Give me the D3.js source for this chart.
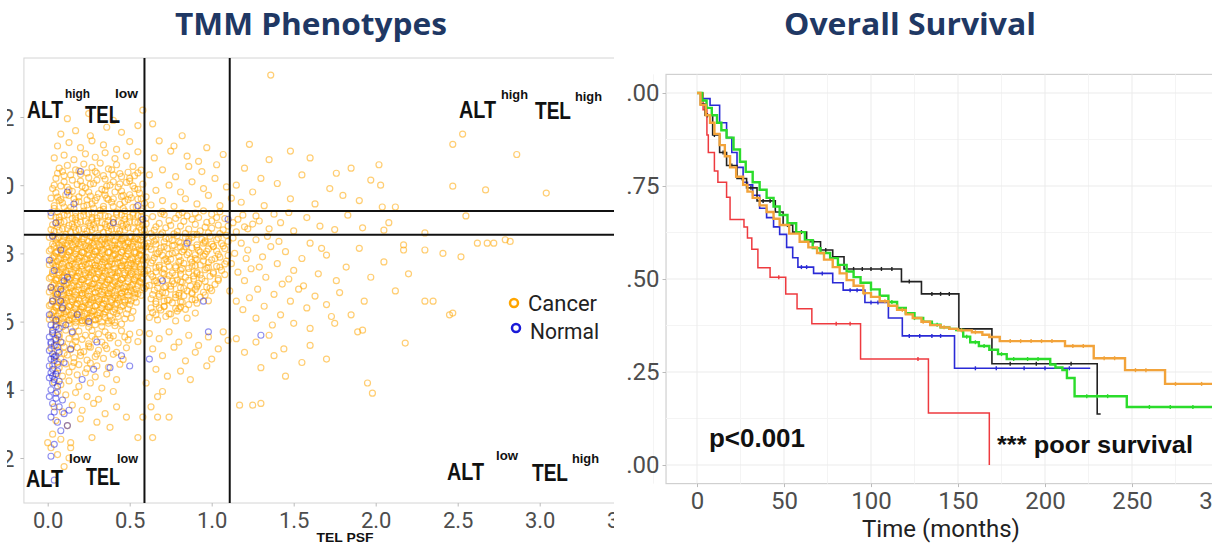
<!DOCTYPE html>
<html><head><meta charset="utf-8">
<script src="https://cdn.jsdelivr.net/npm/d3@7"></script>
<style>body{margin:0;background:#fff;} svg{display:block}</style>
</head><body>
<svg id="c" width="1212" height="544"></svg>
<script>
// ---------------- DATA ----------------
const titles = ["TMM Phenotypes", "Overall Survival"];
const groups = ["Cancer", "Normal"];
const xTicksL = [0, 0.5, 1, 1.5, 2, 2.5, 3, 3.5];
const yTicksL = [2, 4, 6, 8, 10, 12];
const xTitleL = "TEL PSF";
const cutTEL = [0.59, 1.11];
const cutALT = [9.24, 8.55];
const quadMain = ["ALT", "TEL"];
const quadLevels = [["high","low"],["high","high"],["low","low"],["low","high"]];

const cancerCore = [
[.03,8.52],[.07,8.47],[.11,8.55],[.15,8.44],[.19,8.5],[.23,8.56],[.27,8.46],[.31,8.53],[.35,8.42],[.39,8.51],[.43,8.57],[.47,8.45],[.51,8.5],[.55,8.41],[.59,8.54],
[.05,8.31],[.09,8.25],[.13,8.36],[.17,8.28],[.21,8.33],[.25,8.22],[.29,8.35],[.33,8.27],[.37,8.32],[.41,8.24],[.45,8.37],[.49,8.29],[.53,8.34],[.57,8.23],[.61,8.3],
[.02,8.12],[.06,8.05],[.1,8.15],[.14,8.08],[.18,8.13],[.22,8.02],[.26,8.16],[.3,8.07],[.34,8.11],[.38,8.04],[.42,8.14],[.46,8.09],[.5,8.17],[.54,8.03],[.58,8.1],
[.04,7.92],[.08,7.86],[.12,7.95],[.16,7.88],[.2,7.93],[.24,7.84],[.28,7.97],[.32,7.9],[.36,7.85],[.4,7.94],[.44,7.87],[.48,7.91],[.52,7.83],[.56,7.96],[.6,7.89],
[.03,7.71],[.07,7.65],[.11,7.74],[.15,7.68],[.19,7.76],[.23,7.66],[.27,7.72],[.31,7.63],[.35,7.75],[.39,7.69],[.43,7.73],[.47,7.64],[.51,7.7],[.55,7.77],[.59,7.67],
[.05,7.52],[.09,7.45],[.13,7.55],[.17,7.48],[.21,7.53],[.25,7.43],[.29,7.56],[.33,7.49],[.37,7.51],[.41,7.44],[.45,7.57],[.49,7.47],[.53,7.54],[.57,7.46],[.61,7.5],
[.02,7.31],[.06,7.26],[.1,7.35],[.14,7.28],[.18,7.33],[.22,7.24],[.26,7.36],[.3,7.29],[.34,7.32],[.38,7.23],[.42,7.34],[.46,7.27],[.5,7.37],[.54,7.3],[.58,7.25],
[.04,7.12],[.08,7.05],[.12,7.14],[.16,7.07],[.2,7.16],[.24,7.03],[.28,7.11],[.32,7.06],[.36,7.15],[.4,7.08],[.44,7.13],[.48,7.02],[.52,7.1],[.56,7.17],[.6,7.04],
[.03,6.91],[.07,6.85],[.11,6.94],[.15,6.87],[.19,6.93],[.23,6.83],[.27,6.96],[.31,6.89],[.35,6.92],[.39,6.84],[.43,6.95],[.47,6.88],[.51,6.9],[.55,6.82],[.59,6.97],
[.05,6.72],[.09,6.65],[.13,6.74],[.17,6.67],[.21,6.76],[.25,6.64],[.29,6.71],[.33,6.66],[.37,6.75],[.41,6.68],[.45,6.73],[.49,6.63],[.53,6.7],[.57,6.77],
[.02,6.51],[.06,6.46],[.1,6.55],[.14,6.48],[.18,6.53],[.22,6.43],[.26,6.56],[.3,6.49],[.34,6.52],[.38,6.44],[.42,6.54],[.46,6.47],[.5,6.5],[.54,6.57],
[.04,6.32],[.08,6.25],[.12,6.34],[.16,6.27],[.2,6.36],[.24,6.24],[.28,6.31],[.32,6.26],[.36,6.35],[.4,6.28],[.44,6.33],[.48,6.23],[.52,6.3],
[.03,6.11],[.07,6.05],[.11,6.14],[.15,6.07],[.19,6.13],[.23,6.03],[.27,6.16],[.31,6.09],[.35,6.12],[.39,6.04],[.43,6.15],[.47,6.08],[.51,6.1],
[.05,5.92],[.09,5.85],[.13,5.94],[.17,5.87],[.21,5.96],[.25,5.84],[.29,5.91],[.33,5.86],[.37,5.95],[.41,5.88],[.45,5.93],
[.05,8.41],[.09,8.36],[.13,8.45],[.17,8.38],[.21,8.43],[.25,8.35],[.29,8.44],[.33,8.39],[.37,8.46],[.41,8.37],[.45,8.42],[.49,8.34],[.53,8.43],[.57,8.39],
[.04,8.21],[.08,8.16],[.12,8.24],[.16,8.18],[.2,8.23],[.24,8.14],[.28,8.25],[.32,8.19],[.36,8.22],[.4,8.15],[.44,8.26],[.48,8.17],[.52,8.21],[.56,8.13],[.6,8.2],
[.05,8.01],[.09,7.96],[.13,8.04],[.17,7.98],[.21,8.03],[.25,7.95],[.29,8.05],[.33,7.99],[.37,8.02],[.41,7.96],[.45,8.04],[.49,7.97],[.53,8.01],[.57,7.94],
[.02,7.81],[.06,7.76],[.1,7.84],[.14,7.78],[.18,7.83],[.22,7.75],[.26,7.85],[.3,7.79],[.34,7.82],[.38,7.76],[.42,7.84],[.46,7.77],[.5,7.81],[.54,7.74],[.58,7.8],
[.05,7.61],[.09,7.56],[.13,7.64],[.17,7.58],[.21,7.63],[.25,7.55],[.29,7.65],[.33,7.59],[.37,7.62],[.41,7.56],[.45,7.64],[.49,7.57],[.53,7.61],[.57,7.54],
[.03,7.41],[.07,7.36],[.11,7.44],[.15,7.38],[.19,7.43],[.23,7.35],[.27,7.45],[.31,7.39],[.35,7.42],[.39,7.36],[.43,7.44],[.47,7.37],[.51,7.41],[.55,7.34],[.59,7.4],
[.05,7.21],[.09,7.16],[.13,7.24],[.17,7.18],[.21,7.23],[.25,7.15],[.29,7.25],[.33,7.19],[.37,7.22],[.41,7.16],[.45,7.24],[.49,7.17],[.53,7.21],[.57,7.14],
[.02,7.01],[.06,6.96],[.1,7.04],[.14,6.98],[.18,7.03],[.22,6.95],[.26,7.05],[.3,6.99],[.34,7.02],[.38,6.96],[.42,7.04],[.46,6.97],[.5,7.01],[.54,6.94],[.58,7.0],
[.05,6.81],[.09,6.76],[.13,6.84],[.17,6.78],[.21,6.83],[.25,6.75],[.29,6.85],[.33,6.79],[.37,6.82],[.41,6.76],[.45,6.84],[.49,6.77],[.53,6.81],
[.03,6.61],[.07,6.56],[.11,6.64],[.15,6.58],[.19,6.63],[.23,6.55],[.27,6.65],[.31,6.59],[.35,6.62],[.39,6.56],[.43,6.64],[.47,6.57],[.51,6.61],
[.05,6.41],[.09,6.36],[.13,6.44],[.17,6.38],[.21,6.43],[.25,6.35],[.29,6.45],[.33,6.39],[.37,6.42],[.41,6.36],[.45,6.44],[.49,6.37],
[.02,6.21],[.06,6.16],[.1,6.24],[.14,6.18],[.18,6.23],[.22,6.15],[.26,6.25],[.3,6.19],[.34,6.22],[.38,6.16],[.42,6.24],
[.05,6.01],[.09,5.96],[.13,6.04],[.17,5.98],[.21,6.03],[.25,5.95],[.29,6.05],[.33,5.99],[.37,6.02],[.41,5.97]
];
const cancerCore3 = [
[.01,8.47],[.06,8.44],[.1,8.49],[.14,8.45],[.18,8.48],[.22,8.43],[.26,8.5],[.3,8.46],[.34,8.48],[.38,8.44],[.42,8.49],[.46,8.43],[.5,8.47],[.54,8.45],[.58,8.49],
[.03,8.27],[.07,8.24],[.11,8.29],[.15,8.25],[.19,8.28],[.23,8.23],[.27,8.3],[.31,8.26],[.35,8.28],[.39,8.24],[.43,8.29],[.47,8.23],[.51,8.27],[.55,8.25],[.59,8.28],
[.01,8.07],[.05,8.04],[.09,8.09],[.13,8.05],[.17,8.08],[.21,8.03],[.25,8.1],[.29,8.06],[.33,8.08],[.37,8.04],[.41,8.09],[.45,8.03],[.49,8.07],[.53,8.05],[.57,8.08],
[.03,7.87],[.07,7.84],[.11,7.89],[.15,7.85],[.19,7.88],[.23,7.83],[.27,7.9],[.31,7.86],[.35,7.88],[.39,7.84],[.43,7.89],[.47,7.83],[.51,7.87],[.55,7.85],[.59,7.88],
[.01,7.67],[.05,7.64],[.09,7.69],[.13,7.65],[.17,7.68],[.21,7.63],[.25,7.7],[.29,7.66],[.33,7.68],[.37,7.64],[.41,7.69],[.45,7.63],[.49,7.67],[.53,7.65],[.57,7.68],
[.03,7.47],[.07,7.44],[.11,7.49],[.15,7.45],[.19,7.48],[.23,7.43],[.27,7.5],[.31,7.46],[.35,7.48],[.39,7.44],[.43,7.49],[.47,7.43],[.51,7.47],[.55,7.45],[.59,7.48],
[.01,7.27],[.05,7.24],[.09,7.29],[.13,7.25],[.17,7.28],[.21,7.23],[.25,7.3],[.29,7.26],[.33,7.28],[.37,7.24],[.41,7.29],[.45,7.23],[.49,7.27],[.53,7.25],[.57,7.28],
[.03,7.07],[.07,7.04],[.11,7.09],[.15,7.05],[.19,7.08],[.23,7.03],[.27,7.1],[.31,7.06],[.35,7.08],[.39,7.04],[.43,7.09],[.47,7.03],[.51,7.07],[.55,7.05],
[.01,6.87],[.05,6.84],[.09,6.89],[.13,6.85],[.17,6.88],[.21,6.83],[.25,6.9],[.29,6.86],[.33,6.88],[.37,6.84],[.41,6.89],[.45,6.83],[.49,6.87],[.53,6.85],
[.03,6.67],[.07,6.64],[.11,6.69],[.15,6.65],[.19,6.68],[.23,6.63],[.27,6.7],[.31,6.66],[.35,6.68],[.39,6.64],[.43,6.69],[.47,6.63],
[.01,6.47],[.05,6.44],[.09,6.49],[.13,6.45],[.17,6.48],[.21,6.43],[.25,6.5],[.29,6.46],[.33,6.48],[.37,6.44],[.41,6.49],
[.03,6.27],[.07,6.24],[.11,6.29],[.15,6.25],[.19,6.28],[.23,6.23],[.27,6.3],[.31,6.26],[.35,6.28],
[.01,6.07],[.05,6.04],[.09,6.09],[.13,6.05],[.17,6.08],[.21,6.03],[.25,6.1],[.29,6.06],
[.02,8.7],[.07,8.68],[.12,8.73],[.17,8.67],[.22,8.72],[.27,8.69],[.32,8.74],[.37,8.66],[.42,8.71],[.47,8.68],[.52,8.73],[.57,8.7],
[.05,8.88],[.1,8.93],[.15,8.87],[.2,8.92],[.25,8.89],[.3,8.94],[.35,8.86],[.4,8.91],[.45,8.88],[.5,8.93],[.55,8.9],[.6,8.87],
[.02,9.1],[.07,9.07],[.12,9.13],[.17,9.08],[.22,9.12],[.27,9.06],[.32,9.11],[.37,9.08],[.42,9.14],[.47,9.09],[.52,9.12],[.57,9.07]
];
const cancerCoreB = [
[.64,8.48],[.69,8.55],[.74,8.43],[.79,8.52],[.84,8.46],[.89,8.56],[.94,8.41],[.99,8.5],[1.04,8.45],[1.09,8.53],
[.66,8.27],[.71,8.34],[.76,8.22],[.81,8.31],[.86,8.36],[.91,8.25],[.96,8.33],[1.01,8.21],[1.06,8.29],
[.63,8.12],[.68,8.05],[.73,8.15],[.78,8.02],[.83,8.11],[.88,8.16],[.93,8.04],[.98,8.13],[1.03,8.07],[1.08,8.14],
[.65,7.87],[.7,7.94],[.75,7.83],[.8,7.91],[.85,7.96],[.9,7.85],[.95,7.92],[1.0,7.81],[1.05,7.89],
[.63,7.72],[.68,7.65],[.73,7.76],[.78,7.63],[.83,7.71],[.88,7.74],[.93,7.66],[.98,7.73],[1.03,7.62],[1.08,7.69],
[.66,7.46],[.71,7.54],[.76,7.43],[.81,7.51],[.86,7.56],[.91,7.45],[.96,7.52],[1.01,7.41],[1.06,7.5],
[.64,7.32],[.69,7.25],[.74,7.35],[.79,7.22],[.84,7.3],[.89,7.34],[.94,7.26],[.99,7.33],[1.04,7.21],
[.62,7.06],[.67,7.14],[.72,7.03],[.77,7.11],[.82,7.16],[.87,7.05],[.92,7.12],[.97,7.01],[1.02,7.09],
[.65,6.92],[.7,6.85],[.75,6.95],[.8,6.83],[.85,6.9],[.9,6.94],[.95,6.86],[1.0,6.91],
[.63,6.67],[.68,6.74],[.73,6.63],[.78,6.71],[.83,6.76],[.88,6.65],[.93,6.72],[.98,6.61],
[.66,6.52],[.71,6.45],[.76,6.55],[.81,6.43],[.86,6.5],[.91,6.54],
[.64,6.27],[.69,6.34],[.74,6.23],[.79,6.31],[.84,6.36],[.9,6.25],
[.62,6.12],[.67,6.05],[.72,6.15],[.78,6.02],[.85,6.1],
[.66,8.4],[.76,8.38],[.86,8.42],[.96,8.37],[.71,8.2],[.81,8.19],[.91,8.18],[1.01,8.2],[.66,7.99],[.76,8.0],[.86,8.02],[.96,7.98],
[.71,7.8],[.81,7.79],[.91,7.82],[.68,7.6],[.78,7.58],[.88,7.62],[.98,7.59],[.71,7.4],[.81,7.39],[.91,7.41],[.66,7.2],[.76,7.18],
[.86,7.21],[.71,7.0],[.81,6.99],[.91,7.02],[.68,6.8],[.78,6.79],[.88,6.82],[.71,6.6],[.81,6.58],[.68,6.4],[.78,6.39],
[.63,8.58],[.7,8.6],[.77,8.57],[.84,8.59],[.91,8.56],[.98,8.6],[1.05,8.58],
[.65,8.36],[.72,8.44],[.8,8.34],[.88,8.47],[.95,8.3],[1.03,8.4],[1.1,8.35],
[.62,8.2],[.69,8.16],[.77,8.24],[.84,8.2],[.92,8.09],[1.0,8.27],[1.07,8.22],
[.67,7.99],[.74,7.97],[.82,8.05],[.9,7.96],[.97,8.06],[1.04,7.97],[1.1,7.94],
[.64,7.79],[.72,7.84],[.8,7.75],[.87,7.83],[.95,7.78],[1.02,7.85],[1.09,7.77],
[.66,7.58],[.74,7.62],[.82,7.56],[.9,7.64],[.97,7.57],[1.05,7.6],
[.63,7.39],[.7,7.43],[.78,7.36],[.86,7.44],[.93,7.37],[1.01,7.45],[1.08,7.38],
[.65,7.19],[.73,7.23],[.81,7.17],[.89,7.25],[.96,7.18],[1.04,7.26],
[.67,6.99],[.75,7.04],[.83,6.97],[.91,7.06],[.99,6.98],
[.64,6.79],[.72,6.84],[.8,6.77],[.88,6.85],[.96,6.78],
[.66,6.59],[.74,6.63],[.82,6.57],[.9,6.64],
[.63,6.4],[.71,6.44],[.8,6.38],[.66,6.2],[.75,6.22]
];
const cancerBand = [
[.04,8.65],[.09,8.72],[.14,8.63],[.19,8.7],[.24,8.66],[.29,8.74],[.34,8.62],[.39,8.71],[.44,8.67],[.49,8.75],[.54,8.64],[.59,8.69],
[.03,8.84],[.08,8.91],[.13,8.82],[.18,8.88],[.23,8.94],[.28,8.85],[.33,8.9],[.38,8.81],[.43,8.93],[.48,8.86],[.53,8.92],[.58,8.83],
[.05,9.05],[.1,9.12],[.15,9.02],[.2,9.09],[.25,9.15],[.3,9.04],[.35,9.1],[.4,9.01],[.45,9.13],[.5,9.06],[.55,9.11],[.6,9.03],
[.06,9.22],[.12,9.25],[.17,9.19],[.22,9.24],[.27,9.2],[.32,9.26],[.42,9.21],[.47,9.24],[.52,9.18],[.57,9.25],
[.06,8.78],[.16,8.77],[.26,8.79],[.36,8.76],[.46,8.8],[.56,8.77],[.07,8.97],[.17,8.98],[.27,8.99],[.37,8.96],[.47,9.0],[.57,8.97],
[.65,8.68],[.72,8.75],[.79,8.64],[.86,8.71],[.93,8.66],[1.0,8.74],[1.07,8.69],[1.15,8.63],[1.22,8.72],
[.68,8.88],[.75,8.82],[.83,8.94],[.9,8.85],[.97,8.91],[1.04,8.83],[1.13,8.9],[1.25,8.86],
[.64,9.08],[.71,9.14],[.78,9.03],[.85,9.1],[.92,9.05],[1.0,9.15],[1.08,9.02],[1.19,9.12],
[.7,9.23],[.82,9.2],[.95,9.25],[1.05,9.22],
[.66,8.78],[.74,8.96],[.81,8.8],[.88,9.0],[.96,8.77],[1.03,9.05],[1.1,8.8],[.69,9.17],[.8,9.13],[.9,9.18],[1.0,8.95],[1.16,9.0],[1.2,8.78],[1.27,9.1],
[1.35,8.72],[1.42,8.9],[1.5,8.66],[1.58,9.05],[1.66,8.8],[1.75,8.7],[1.83,9.12],[1.92,8.75],[2.05,8.68],[1.38,9.15],[1.47,9.2],[1.29,8.95]
];
const cancerUpper = [
[.04,9.4],[.09,9.48],[.14,9.35],[.19,9.52],[.24,9.42],[.29,9.55],[.34,9.38],[.39,9.5],[.44,9.44],[.49,9.58],[.54,9.36],[.59,9.47],
[.06,9.65],[.11,9.72],[.16,9.6],[.21,9.78],[.26,9.68],[.31,9.75],[.36,9.62],[.41,9.8],[.46,9.7],[.51,9.63],[.56,9.77],
[.03,9.9],[.08,9.98],[.13,9.86],[.18,10.02],[.23,9.92],[.28,10.05],[.33,9.88],[.38,10.0],[.43,9.94],[.48,10.08],[.53,9.9],[.58,10.03],
[.05,10.2],[.1,10.28],[.15,10.15],[.2,10.32],[.25,10.22],[.3,10.35],[.35,10.18],[.4,10.3],[.45,10.25],[.5,10.12],[.55,10.36],
[.07,10.5],[.12,10.58],[.17,10.45],[.22,10.62],[.27,10.52],[.32,10.65],[.37,10.48],[.42,10.6],[.52,10.55],[.57,10.44],
[.04,10.8],[.1,10.88],[.16,10.75],[.23,10.92],[.29,10.82],[.35,10.95],[.41,10.78],[.48,10.86],[.55,10.98],
[.06,11.15],[.13,11.25],[.2,11.1],[.27,11.3],[.34,11.18],[.42,11.05],[.5,11.28],
[.08,11.5],[.17,11.6],[.26,11.45],[.36,11.7],[.45,11.55],[.55,11.75],
[.12,11.95],[.25,12.1],[.4,11.9],[.58,12.2],
[.07,9.55],[.17,9.5],[.27,9.45],[.37,9.58],[.47,9.52],[.57,9.6],[.05,9.78],[.15,9.82],[.25,9.8],[.35,9.85],[.45,9.83],[.55,9.88],
[.1,10.1],[.2,10.12],[.3,10.15],[.4,10.1],[.5,10.2],[.09,10.4],[.19,10.42],[.29,10.4],[.39,10.45],[.49,10.38],
[.04,9.32],[.1,9.36],[.16,9.31],[.22,9.38],[.28,9.33],[.34,9.3],[.4,9.37],[.46,9.32],[.52,9.35],[.58,9.31],
[.02,9.62],[.08,9.58],[.13,9.7],[.19,9.66],[.24,9.57],[.3,9.64],[.35,9.71],[.4,9.6],[.45,9.67],[.5,9.72],[.55,9.59],[.6,9.66],
[.04,10.0],[.12,9.94],[.21,9.97],[.26,10.03],[.36,9.97],[.44,10.04],[.52,9.98],[.06,10.35],[.14,10.3],[.24,10.36],[.34,10.28],[.44,10.34],[.53,10.28],
[.63,9.42],[.7,9.55],[.77,9.38],[.84,9.6],[.91,9.45],[.98,9.7],[1.05,9.4],[1.12,9.62],
[.66,9.85],[.74,10.0],[.81,9.8],[.88,10.1],[.95,9.9],[1.02,10.2],[1.09,9.95],
[.62,10.3],[.7,10.45],[.78,10.25],[.86,10.55],[.94,10.4],[1.03,10.6],
[.65,10.8],[.75,11.0],[.85,10.85],[.97,11.1],[.68,11.3],[.82,11.45],[.64,11.8],[.77,11.15],[.92,10.7],[1.07,10.9],
[1.23,11.2],[1.48,11.0],[1.6,10.8],[1.76,10.35],[1.85,10.5],[2.02,10.6],[1.97,10.15],[2.03,10.0],[1.2,10.5],[1.3,10.2],
[1.35,10.75],[1.15,10.0],[1.18,9.5],[1.25,9.8],[1.32,9.4],[1.4,10.05],[1.48,9.6],[1.55,10.3],[1.63,9.45],[1.72,9.9],
[1.8,9.7],[1.9,9.55],[2.04,9.36],[2.12,9.36],[1.36,13.23]
];
const cancerRight = [
[1.13,8.45],[1.18,8.3],[1.22,8.1],[1.27,8.4],[1.31,7.9],[1.36,8.2],[1.4,7.7],[1.45,8.05],[1.5,7.5],[1.55,7.85],[1.6,8.3],[1.65,7.4],
[1.7,7.95],[1.76,7.2],[1.82,7.6],[1.9,8.15],[1.97,7.3],[2.05,7.75],[2.12,6.9],[2.2,7.4],
[1.12,7.7],[1.16,7.45],[1.2,7.2],[1.24,7.55],[1.28,6.95],[1.33,7.3],[1.38,6.8],[1.43,7.1],[1.48,6.6],[1.53,6.95],[1.58,6.4],
[1.63,6.75],[1.7,6.5],[1.78,6.85],[1.85,6.2],[1.93,6.6],
[1.11,6.9],[1.15,6.6],[1.19,6.35],[1.23,6.7],[1.27,6.1],[1.32,6.45],[1.37,5.9],[1.42,6.2],[1.5,5.95],[1.6,5.8],[1.75,5.95],
[1.14,8.0],[1.21,7.85],[1.29,7.6],[1.34,8.5],[1.41,8.35],[1.47,7.25],[1.56,7.05],[1.67,8.15],[1.73,6.15],
[2.3,8.1],[2.35,6.6],[2.47,6.25],[2.52,7.9],[2.62,8.3],[2.72,8.3],[2.82,8.35],
[2.53,11.5],[2.47,11.2],[2.86,10.9],[2.47,9.97],[2.67,9.86],[3.04,9.77],[2.55,9.1],[2.79,8.4],[2.68,8.3],[2.41,8.0],
[2.17,8.25],[2.17,8.1],[2.08,8.9],[2.3,8.6]
];
const cancerLower = [
[.03,5.7],[.07,5.62],[.11,5.75],[.15,5.66],[.19,5.72],[.23,5.6],[.27,5.74],[.31,5.64],[.35,5.7],[.4,5.58],[.45,5.73],[.5,5.63],[.56,5.68],
[.05,5.45],[.09,5.38],[.13,5.5],[.17,5.42],[.21,5.48],[.25,5.35],[.29,5.47],[.33,5.4],[.38,5.52],[.43,5.37],[.49,5.46],[.55,5.41],
[.02,5.22],[.06,5.15],[.1,5.26],[.14,5.18],[.18,5.24],[.22,5.12],[.26,5.25],[.31,5.16],[.36,5.21],[.42,5.1],[.48,5.23],
[.04,4.98],[.08,4.9],[.12,5.02],[.16,4.94],[.2,5.0],[.24,4.87],[.29,4.97],[.34,4.92],[.4,5.04],[.46,4.89],
[.03,4.72],[.07,4.65],[.11,4.76],[.15,4.68],[.19,4.74],[.24,4.62],[.3,4.7],[.37,4.66],[.44,4.75],
[.05,4.48],[.09,4.4],[.13,4.52],[.18,4.44],[.23,4.5],[.29,4.38],[.36,4.46],[.42,4.3],
[.04,4.22],[.08,4.15],[.13,4.26],[.19,4.1],[.26,4.2],[.33,4.05],[.4,3.95],
[.06,3.95],[.11,3.85],[.17,3.92],[.24,3.8],[.31,3.72],
[.07,5.55],[.17,5.55],[.27,5.57],[.37,5.6],[.47,5.55],[.05,5.3],[.15,5.32],[.25,5.28],[.35,5.3],[.1,5.07],[.2,5.1],[.3,5.05],
[.06,4.82],[.16,4.8],[.26,4.78],
[.62,5.65],[.68,5.5],[.74,5.7],[.8,5.4],[.86,5.6],[.92,5.3],[.98,5.55],[1.04,5.2],[1.1,5.45],
[.64,5.2],[.7,5.0],[.77,5.25],[.84,4.85],[.9,5.1],[.97,4.7],[.66,4.6],[.73,4.4],[.81,4.55],[.6,4.2],[.7,3.95],[.87,4.3],
[1.0,4.9],[1.07,5.7],[1.15,5.5],[1.2,5.1],[1.27,5.4],[1.35,5.6],[1.44,5.2],[1.55,4.8],[1.3,4.65],
[1.17,3.55],[1.25,3.55],[1.3,3.6],[1.95,4.2],[1.98,3.9],[1.89,5.7],[1.92,5.75],[2.18,5.37],[2.3,6.6],[2.45,6.2],
[1.6,5.3],[1.7,4.9],[1.45,4.4],[1.38,5.0],
[.04,3.5],[.09,3.35],[.15,3.55],[.21,3.4],[.28,3.6],[.35,3.3],[.42,3.5],[.05,3.1],[.12,2.95],[.2,3.15],[.3,3.05],[.38,2.9],
[.48,3.2],[.63,3.5],[.67,3.8],[.74,3.2],[.58,3.2],[.67,3.2],[.55,2.6],[.64,2.6],[.03,2.7],[.08,2.55],[.14,2.45],[.27,2.6],
[.0,2.45],[.14,2.3],[.02,2.3],[.06,2.1],[.13,2.0],[.1,1.75]
];
const normalPts = [
[.02,9.2],[.05,8.9],[.03,8.5],[.08,8.1],[.01,7.8],[.04,7.5],[.1,7.2],[.02,7.0],[.06,6.8],[.03,6.6],[.09,6.4],[.01,6.2],
[.05,6.05],[.02,5.9],[.07,5.8],[.03,5.65],[.01,5.55],[.05,5.5],[.02,5.4],[.04,5.3],[.06,5.25],[.01,5.15],[.03,5.05],[.05,5.0],
[.02,4.9],[.04,4.85],[.06,4.75],[.01,4.7],[.03,4.6],[.02,4.5],[.05,4.45],[.01,4.35],[.04,4.3],[.03,4.2],[.06,4.1],[.02,4.0],
[.05,3.9],[.01,3.8],[.03,3.6],[.07,3.5],[.04,3.35],[.1,3.3],[.13,3.4],[.02,3.2],[.06,3.05],[.12,2.95],[.08,2.8],[.04,2.4],
[.02,2.05],[.04,1.35],
[.03,5.75],[.06,5.6],[.02,5.35],[.07,5.1],[.04,4.95],[.03,4.4],[.06,4.55],[.08,5.4],[.05,5.85],[.08,6.6],[.11,5.9],[.14,5.2],
[.1,4.8],[.07,4.25],[.09,3.7],[.05,3.75],
[.2,10.4],[.12,9.8],[.16,9.45],[.4,8.9],[.55,9.4],[.58,9.0],[.85,8.3],[1.1,9.0],[.7,7.2],[.95,6.6],[.98,5.7],[1.3,5.6],
[.62,4.9],[.45,5.0],[.38,4.65],[.28,4.6],[.21,4.3],[.15,5.7],[.25,6.0],[.08,6.95],[.12,7.3],[.18,6.2],[.3,5.4],[.5,4.7]
];

// Survival (Kaplan-Meier) data: [time (months), survival]
const xTicksR = [0, 50, 100, 150, 200, 250, 300];
const yTicksR = [0, 0.25, 0.5, 0.75, 1];
const xTitleR = "Time (months)";
const pText = "p<0.001";
const poorText = "*** poor survival";
const kmRed = [[0,1],[3.5,.955],[5.7,.887],[6.5,.84],[10,.79],[12,.76],[17,.72],[19,.66],[27,.64],[29,.61],[31.5,.58],[35,.53],[42,.505],[51,.46],[57.5,.42],[66,.38],[94,.285],[133,.14],[168,0]];
const kmRedCens = [47, 80, 88, 127];
const kmBlue = [[0,1],[3,.985],[7.5,.967],[13,.92],[17,.88],[20,.84],[23,.8],[26.5,.76],[29,.753],[32,.725],[36,.69],[40,.665],[44,.64],[47.5,.62],[51.5,.585],[55,.557],[58,.532],[67,.515],[78,.49],[84,.47],[96.5,.437],[110,.395],[118,.347],[148,.26],[226,.26]];
const kmBlueCens = [60, 63, 72, 88, 92, 100, 104, 122, 128, 135, 140, 160, 172, 188, 200, 214];
const kmBlack = [[0,1],[2,.97],[4.6,.94],[9,.887],[13,.84],[17,.805],[23,.77],[28.5,.745],[34.5,.71],[45,.68],[49.5,.645],[55,.626],[63,.6],[71,.578],[78,.56],[84.5,.527],[117.5,.493],[129,.46],[150.5,.366],[169.5,.272],[230,.137],[232,.137]];
const kmBlackCens = [6, 10, 15, 20, 26, 31, 38, 42, 52, 60, 67, 74, 90, 95, 100, 106, 112, 122, 135, 140, 145, 180, 195, 215];
const kmGreen = [[0,1],[3,.98],[5.5,.96],[8.5,.94],[11.5,.92],[14,.9],[17,.88],[21,.848],[24.7,.815],[28,.788],[32,.76],[36,.74],[40,.718],[44,.695],[47.5,.672],[52,.65],[57,.626],[62,.604],[66.5,.583],[71,.57],[76.5,.556],[81,.538],[86,.52],[90,.505],[94,.49],[100,.472],[105,.455],[110,.438],[115,.422],[120,.408],[125,.395],[130,.385],[135,.377],[140,.37],[145,.366],[149,.363],[153,.345],[157,.33],[162,.32],[168,.31],[173,.298],[178,.285],[203,.27],[206,.262],[210,.255],[212.6,.234],[217,.185],[247,.156],[300,.156]];
const kmGreenCens = [100, 112, 125, 138, 155, 160, 165, 175, 182, 190, 196, 224, 230, 236, 260, 272, 285];
const kmOrange = [[0,1],[2,.968],[5,.94],[7.5,.92],[10,.89],[13,.86],[16,.83],[19,.8],[22.5,.775],[26.5,.753],[29,.735],[32,.718],[36,.698],[40,.68],[44,.662],[47.5,.645],[53,.622],[59,.6],[64,.585],[69,.57],[73,.552],[78,.532],[82,.515],[86,.497],[90,.482],[95.6,.462],[100,.452],[105,.44],[110,.428],[115,.417],[120,.405],[124,.395],[129,.385],[134,.376],[140,.37],[145,.366],[150,.362],[158,.357],[164,.35],[168,.344],[174,.333],[211.5,.32],[228,.287],[246,.255],[269,.218],[300,.218]];
const kmOrangeCens = [96, 108, 118, 130, 142, 152, 160, 180, 186, 192, 198, 204, 216, 222, 234, 240, 252, 258, 275, 290];

// ---------------- DRAWING ----------------
const svg = d3.select("#c");
svg.append("rect").attr("width", 1212).attr("height", 544).attr("fill", "#fff");
const defs = svg.append("defs");
defs.append("clipPath").attr("id", "clipL").append("rect").attr("x", 7).attr("y", 0).attr("width", 607).attr("height", 544);
defs.append("clipPath").attr("id", "clipR").append("rect").attr("x", 626).attr("y", 0).attr("width", 586).attr("height", 544);

const titleFont = "'Open Sans', 'Noto Sans', sans-serif";
svg.append("text").attr("x", 311).attr("y", 35).attr("text-anchor", "middle")
  .attr("font-family", titleFont).attr("font-weight", 700).attr("font-size", 31).attr("fill", "#1f3864")
  .attr("textLength", 272).attr("lengthAdjust", "spacingAndGlyphs").text(titles[0]);
svg.append("text").attr("x", 910).attr("y", 35).attr("text-anchor", "middle")
  .attr("font-family", titleFont).attr("font-weight", 700).attr("font-size", 31).attr("fill", "#1f3864")
  .attr("textLength", 252).attr("lengthAdjust", "spacingAndGlyphs").text(titles[1]);

// ---------- Left: scatter ----------
const xL = d3.scaleLinear().domain([0, 3]).range([47.7, 539.7]);
const yL = d3.scaleLinear().domain([2, 12]).range([458, 117]);
const gL = svg.append("g").attr("clip-path", "url(#clipL)");
const pL = { x0: xL(-0.145), x1: 700, y0: yL(13.73), y1: yL(0.68) };
gL.append("rect").attr("x", pL.x0).attr("y", pL.y0).attr("width", pL.x1 - pL.x0).attr("height", pL.y1 - pL.y0)
  .attr("fill", "#fff").attr("stroke", "#d4d4d4").attr("stroke-width", 1);

const axisFont = "Roboto, 'Liberation Sans', sans-serif";
const yAx = gL.append("g").attr("transform", `translate(${pL.x0},0)`)
  .call(d3.axisLeft(yL).tickValues(yTicksL).tickSize(3.5).tickPadding(6).tickFormat(d3.format("d")));
yAx.select(".domain").remove();
yAx.selectAll("line").attr("stroke", "#bbb");
yAx.selectAll("text").attr("font-family", axisFont).attr("font-size", 23).attr("fill", "#4d4d4d").attr("dy", "0.35em");
const xAx = gL.append("g").attr("transform", `translate(0,${pL.y1})`)
  .call(d3.axisBottom(xL).tickValues(xTicksL).tickSize(3.5).tickPadding(6).tickFormat(d3.format(".1f")));
xAx.select(".domain").remove();
xAx.selectAll("line").attr("stroke", "#bbb");
xAx.selectAll("text").attr("font-family", axisFont).attr("font-size", 22).attr("fill", "#4d4d4d").attr("dy", "0.72em");
gL.append("text").attr("x", 345).attr("y", 542).attr("text-anchor", "middle").attr("font-family", "'Liberation Sans', Arial, sans-serif")
  .attr("font-weight", 700).attr("font-size", 13).attr("fill", "#111").attr("textLength", 57).attr("lengthAdjust", "spacingAndGlyphs").text(xTitleL);

const cancerAll = [].concat(cancerUpper, cancerBand, cancerCore, cancerCore3, cancerCoreB, cancerRight, cancerLower);
gL.append("g").selectAll("circle").data(cancerAll).join("circle")
  .attr("cx", d => xL(d[0])).attr("cy", d => yL(d[1])).attr("r", 3)
  .attr("fill", "none").attr("stroke", "#FFA500").attr("stroke-width", 1.2).attr("stroke-opacity", 0.55);
gL.append("g").selectAll("circle").data(normalPts).join("circle")
  .attr("cx", d => xL(d[0])).attr("cy", d => yL(d[1])).attr("r", 3)
  .attr("fill", "none").attr("stroke", "#2020e0").attr("stroke-width", 1.1).attr("stroke-opacity", 0.5);

cutTEL.forEach(v => gL.append("line").attr("x1", xL(v)).attr("x2", xL(v)).attr("y1", pL.y0).attr("y2", pL.y1)
  .attr("stroke", "#111").attr("stroke-width", 2));
cutALT.forEach(v => gL.append("line").attr("x1", pL.x0).attr("x2", pL.x1).attr("y1", yL(v)).attr("y2", yL(v))
  .attr("stroke", "#111").attr("stroke-width", 2));

const qFont = "'Liberation Sans', Arial, sans-serif";
const qLayout = [
  { alt: [27, 118, 36], s1: [65, 98, 25], tel: [85, 123, 35], s2: [115, 98, 23] },
  { alt: [459, 118, 37], s1: [501, 99, 27], tel: [535, 119, 36], s2: [575, 101, 27] },
  { alt: [26, 487, 37], s1: [69, 463, 22], tel: [86, 485, 34], s2: [117, 463, 21] },
  { alt: [447, 480, 37], s1: [496, 460, 22], tel: [532, 481, 36], s2: [572, 463, 27] }
];
quadLevels.forEach((lv, i) => {
  const L = qLayout[i];
  const big = (p, t) => gL.append("text").attr("x", p[0]).attr("y", p[1]).attr("font-family", qFont).attr("font-weight", 700)
    .attr("font-size", 24).attr("fill", "#111").attr("textLength", p[2]).attr("lengthAdjust", "spacingAndGlyphs").text(t);
  const sm = (p, t) => gL.append("text").attr("x", p[0]).attr("y", p[1]).attr("font-family", qFont).attr("font-weight", 700)
    .attr("font-size", 13).attr("fill", "#111").attr("textLength", p[2]).attr("lengthAdjust", "spacingAndGlyphs").text(t);
  big(L.alt, quadMain[0]); sm(L.s1, lv[0]); big(L.tel, quadMain[1]); sm(L.s2, lv[1]);
});

const legCol = ["#FFA500", "#1a1ad8"];
const legPos = [[514, 303, 528, 311, 69], [516, 328, 530, 339, 69]];
groups.forEach((g, i) => {
  const p = legPos[i];
  gL.append("circle").attr("cx", p[0]).attr("cy", p[1]).attr("r", 4).attr("fill", "none").attr("stroke", legCol[i]).attr("stroke-width", 2.5);
  gL.append("text").attr("x", p[2]).attr("y", p[3]).attr("font-family", axisFont).attr("font-size", 22).attr("fill", "#222")
    .attr("textLength", p[4]).attr("lengthAdjust", "spacingAndGlyphs").text(g);
});

// ---------- Right: Kaplan-Meier ----------
const xR = d3.scaleLinear().domain([0, 300]).range([697, 1219]);
const yR = d3.scaleLinear().domain([0, 1]).range([465, 93]);
const gR = svg.append("g").attr("clip-path", "url(#clipR)");
const pR = { x0: xR(-17.8), x1: 1300, y0: yR(1.05), y1: yR(-0.05) };
gR.append("rect").attr("x", pR.x0).attr("y", pR.y0).attr("width", pR.x1 - pR.x0).attr("height", pR.y1 - pR.y0)
  .attr("fill", "#fff").attr("stroke", "#d0d0d0").attr("stroke-width", 1.2);
const minorX = d3.range(-25, 375, 50), minorY = [0.125, 0.375, 0.625, 0.875];
gR.append("g").selectAll("line").data(minorX).join("line").attr("x1", d => xR(d)).attr("x2", d => xR(d)).attr("y1", pR.y0).attr("y2", pR.y1).attr("stroke", "#f4f4f4");
gR.append("g").selectAll("line").data(minorY).join("line").attr("y1", d => yR(d)).attr("y2", d => yR(d)).attr("x1", pR.x0).attr("x2", pR.x1).attr("stroke", "#f4f4f4");
gR.append("g").selectAll("line").data(xTicksR.concat([350])).join("line").attr("x1", d => xR(d)).attr("x2", d => xR(d)).attr("y1", pR.y0).attr("y2", pR.y1).attr("stroke", "#ebebeb");
gR.append("g").selectAll("line").data(yTicksR).join("line").attr("y1", d => yR(d)).attr("y2", d => yR(d)).attr("x1", pR.x0).attr("x2", pR.x1).attr("stroke", "#ebebeb");

const yAxR = gR.append("g").attr("transform", `translate(${pR.x0},0)`)
  .call(d3.axisLeft(yR).tickValues(yTicksR).tickSize(3.5).tickPadding(3).tickFormat(d3.format(".2f")));
yAxR.select(".domain").remove();
yAxR.selectAll("line").attr("stroke", "#bbb");
yAxR.selectAll("text").attr("font-family", axisFont).attr("font-size", 24).attr("fill", "#4d4d4d");
const xAxR = gR.append("g").attr("transform", `translate(0,${pR.y1})`)
  .call(d3.axisBottom(xR).tickValues(xTicksR).tickSize(3.5).tickPadding(5).tickFormat(d3.format("d")));
xAxR.select(".domain").remove();
xAxR.selectAll("line").attr("stroke", "#bbb");
xAxR.selectAll("text").attr("font-family", axisFont).attr("font-size", 24).attr("fill", "#4d4d4d").attr("dy", "0.72em");
gR.append("text").attr("x", 941).attr("y", 537).attr("text-anchor", "middle").attr("font-family", axisFont)
  .attr("font-size", 24).attr("fill", "#222").text(xTitleR);

const stepLine = d3.line().x(d => xR(d[0])).y(d => yR(d[1])).curve(d3.curveStepAfter);
const survAt = (data, t) => { let s = data[0][1]; for (const d of data) { if (d[0] <= t) s = d[1]; } return s; };
const series = [
  { data: kmRed, cens: kmRedCens, col: "#ee3a3f", w: 1.5 },
  { data: kmBlue, cens: kmBlueCens, col: "#2a2ad6", w: 1.6 },
  { data: kmBlack, cens: kmBlackCens, col: "#222222", w: 1.6 },
  { data: kmGreen, cens: kmGreenCens, col: "#2bdc2b", w: 2.4 },
  { data: kmOrange, cens: kmOrangeCens, col: "#f2a33a", w: 2.4 }
];
series.forEach(s => {
  gR.append("path").datum(s.data).attr("d", stepLine).attr("fill", "none").attr("stroke", s.col).attr("stroke-width", s.w);
  gR.append("g").selectAll("line").data(s.cens).join("line")
    .attr("x1", d => xR(d)).attr("x2", d => xR(d))
    .attr("y1", d => yR(survAt(s.data, d)) - 2).attr("y2", d => yR(survAt(s.data, d)) + 2)
    .attr("stroke", s.col).attr("stroke-width", 1.4);
});

gR.append("text").attr("x", 709).attr("y", 447).attr("font-family", qFont).attr("font-weight", 700)
  .attr("font-size", 25).attr("fill", "#111").attr("textLength", 96).attr("lengthAdjust", "spacingAndGlyphs").text(pText);
gR.append("text").attr("x", 997).attr("y", 453).attr("font-family", qFont).attr("font-weight", 700)
  .attr("font-size", 24).attr("fill", "#111").attr("textLength", 196).attr("lengthAdjust", "spacingAndGlyphs").text(poorText);
</script></body></html>
